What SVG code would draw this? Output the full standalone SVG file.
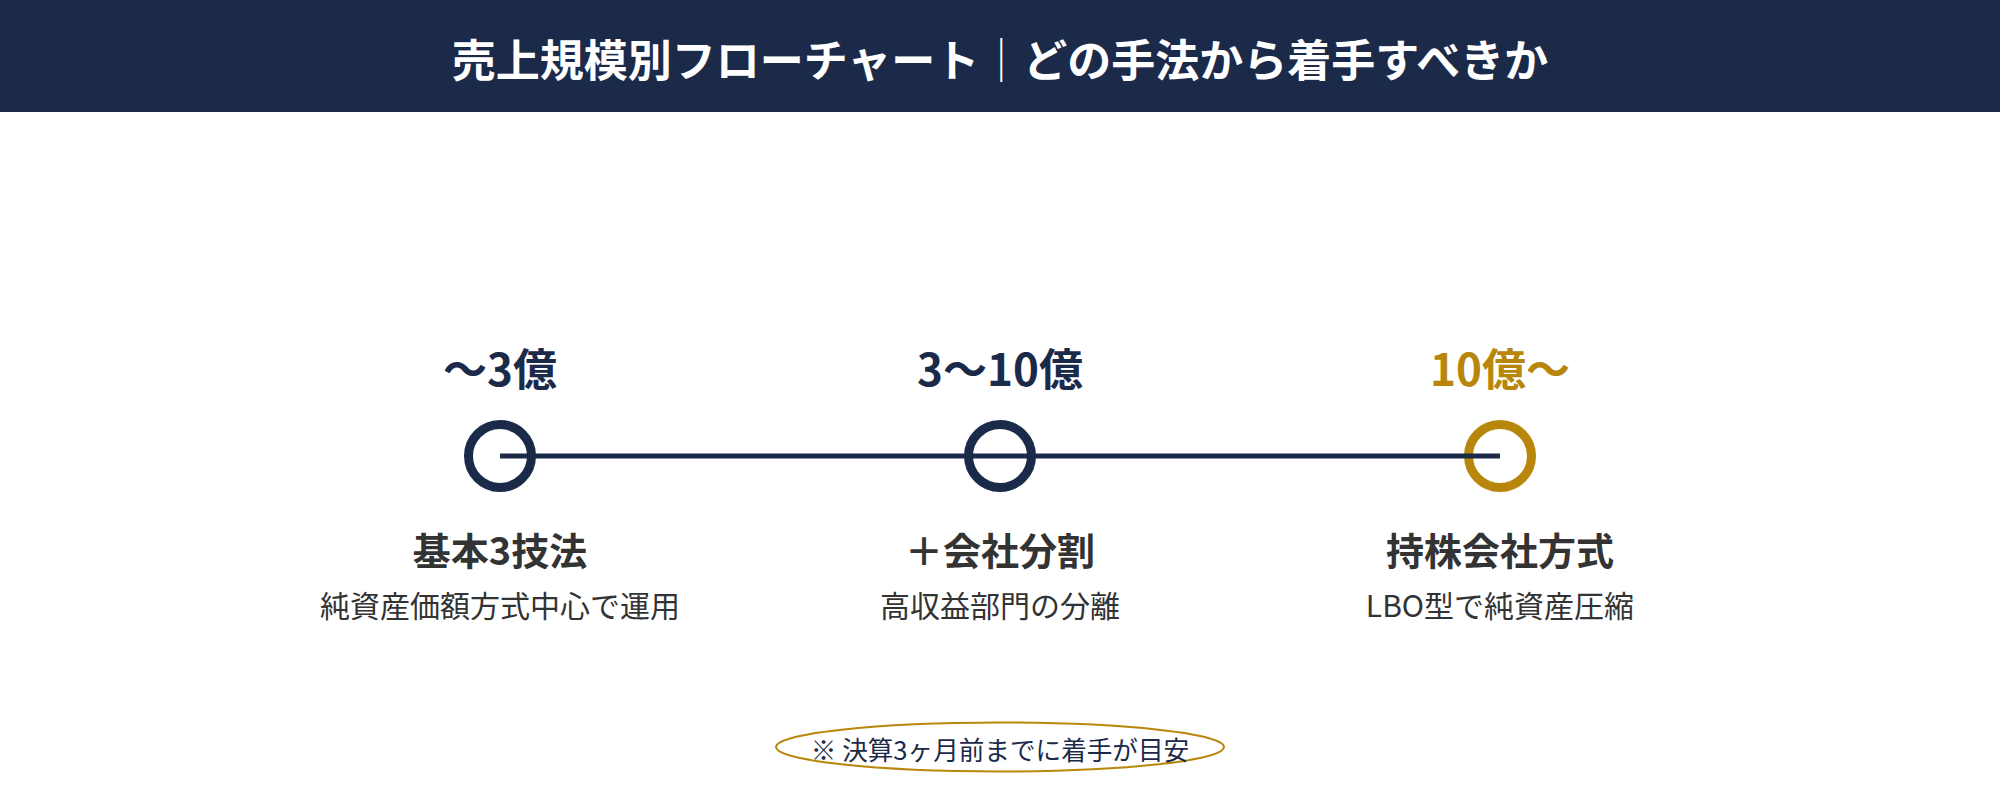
<svg xmlns="http://www.w3.org/2000/svg" width="2000" height="800" viewBox="0 0 2000 800">
<style>
text{font-family:"Noto Sans CJK JP","Noto Sans",sans-serif;text-anchor:middle}
.title{font-size:44px;font-weight:700;fill:#ffffff}
.sep{font-weight:400}
.range{font-size:44px;font-weight:700;fill:#1c2a4a}
.gold{fill:#b8860b}
.method{font-size:38px;font-weight:700;fill:#333333}
.desc{font-size:30px;font-weight:400;fill:#333333}
.note{font-size:25.6px;font-weight:400;fill:#1c2a4a}
.ring{fill:#ffffff;stroke:#1c2a4a;stroke-width:9}
.ring.g{stroke:#b8860b}
</style>
<rect x="0" y="0" width="2000" height="112" fill="#1c2a4a"/>
<text class="title" x="1000" y="77">売上規模別フローチャート<tspan class="sep">｜</tspan>どの手法から着手すべきか</text>
<g id="node-small">
<circle class="ring" cx="500" cy="456" r="31.5"/>
<text class="range" x="500" y="386">〜3億</text>
<text class="method" x="500" y="565">基本3技法</text>
<text class="desc" x="500" y="617">純資産価額方式中心で運用</text>
</g>
<g id="node-mid">
<circle class="ring" cx="1000" cy="456" r="31.5"/>
<text class="range" x="1000" y="386">3〜10億</text>
<text class="method" x="1000" y="565">＋会社分割</text>
<text class="desc" x="1000" y="617">高収益部門の分離</text>
</g>
<g id="node-large">
<circle class="ring g" cx="1500" cy="456" r="31.5"/>
<text class="range gold" x="1500" y="386">10億〜</text>
<text class="method" x="1500" y="565">持株会社方式</text>
<text class="desc" x="1500" y="617">LBO型で純資産圧縮</text>
</g>
<g id="connectors">
<line x1="500" y1="456" x2="1500" y2="456" stroke="#1c2a4a" stroke-width="5"/>
</g>
<g id="note">
<ellipse cx="1000" cy="747" rx="224" ry="24.5" fill="#ffffff" stroke="#b8860b" stroke-width="2"/>
<text class="note" x="1000" y="760">※ 決算3ヶ月前までに着手が目安</text>
</g>
</svg>
